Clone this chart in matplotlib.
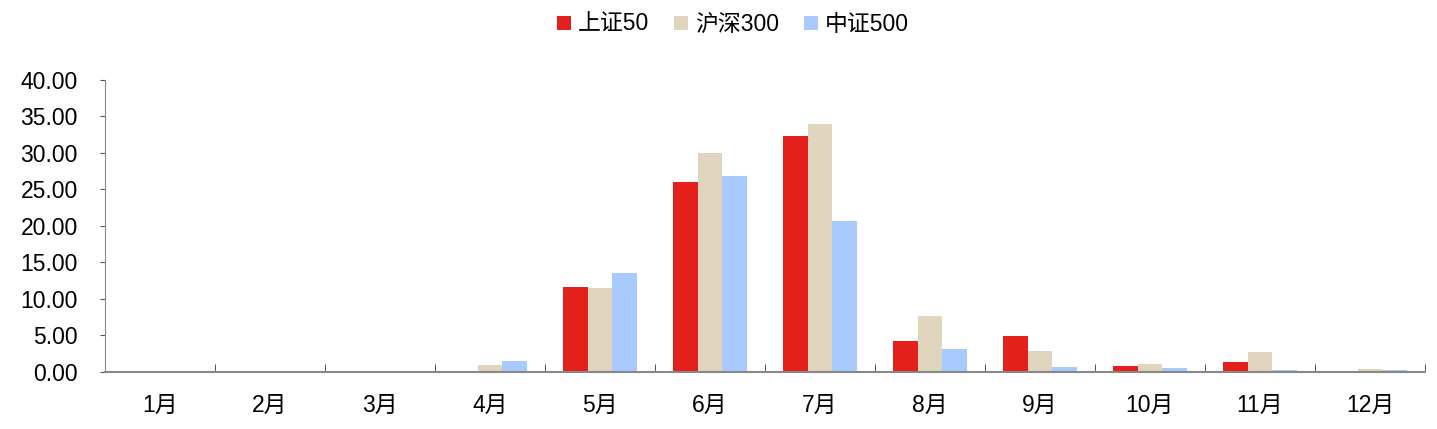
import numpy as np
import matplotlib.pyplot as plt
from matplotlib.ticker import FixedLocator, FormatStrFormatter

plt.rcParams['font.family'] = ['Liberation Sans', 'Noto Sans CJK SC']

months = ["1月", "2月", "3月", "4月", "5月", "6月",
          "7月", "8月", "9月", "10月", "11月", "12月"]
sz50 = [0, 0, 0, 0, 11.6, 26.0, 32.3, 4.3, 4.9, 0.8, 1.4, 0.1]
hs300 = [0, 0, 0, 0.9, 11.5, 30.0, 34.0, 7.7, 2.9, 1.1, 2.7, 0.45]
zz500 = [0, 0, 0, 1.55, 13.5, 26.8, 20.7, 3.1, 0.7, 0.5, 0.3, 0.3]

series = [("上证50", sz50, "#E3201B"),
          ("沪深300", hs300, "#DFD5BD"),
          ("中证500", zz500, "#A8CAFF")]

fig = plt.figure(figsize=(14.37, 4.29), dpi=100)
ax = fig.add_axes([0.073, 0.133, 0.9186, 0.681])

x = np.arange(len(months))
width = 0.223
for i, (name, vals, color) in enumerate(series):
    ax.bar(x + (i - 1) * width, vals, width, color=color, label=name)

ax.set_xlim(-0.5, len(months) - 0.5)
ax.set_ylim(0, 40)
ax.set_yticks(np.arange(0, 40.1, 5))
ax.yaxis.set_major_formatter(FormatStrFormatter("%.2f"))

ax.set_xticks(x)
ax.set_xticklabels(months)
ax.xaxis.set_minor_locator(FixedLocator(np.arange(-0.5, len(months), 1)))
ax.tick_params(axis="x", which="major", length=0, pad=16, labelsize=16.5)
ax.tick_params(axis="x", which="minor", direction="in", length=5.5, color="#333333")
ax.tick_params(axis="y", direction="out", length=3.6, color="#555555", labelsize=16.5, pad=16)

for side in ["top", "right"]:
    ax.spines[side].set_visible(False)
ax.spines["left"].set_color("#888888")
ax.spines["bottom"].set_color("#888888")
ax.spines["bottom"].set_linewidth(1.5)

fig.legend(loc="upper center", bbox_to_anchor=(0.51, 1.018), ncol=3, frameon=False,
           fontsize=16.5, handlelength=0.6, handleheight=0.6, handletextpad=0.3,
           columnspacing=1.1)

fig.savefig("out.png", dpi=100)
